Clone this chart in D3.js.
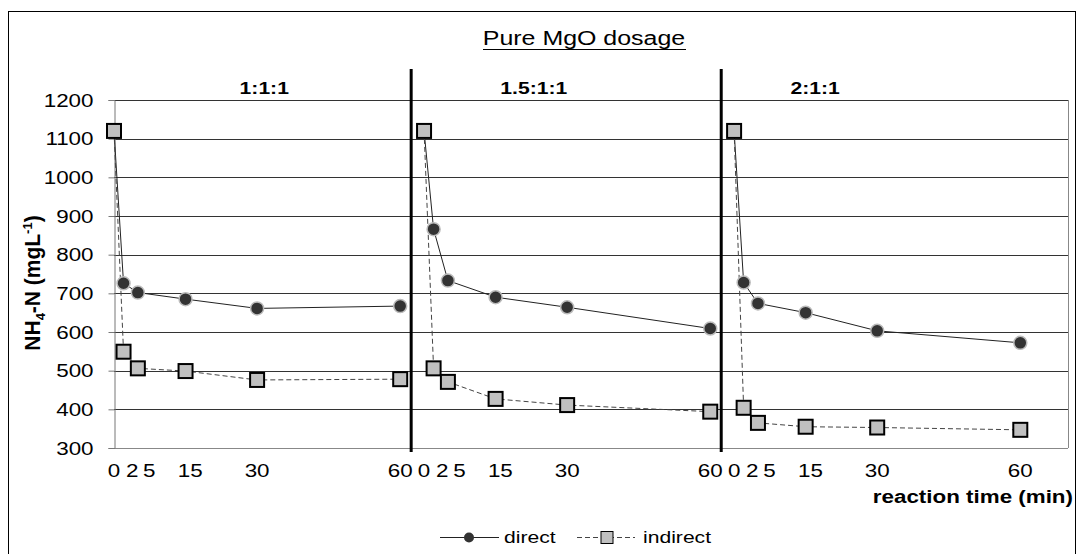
<!DOCTYPE html>
<html>
<head>
<meta charset="utf-8">
<script src="https://cdn.jsdelivr.net/npm/d3@7"></script>
<style>
body { margin: 0; background: #fff; }
text { font-family: Arial, "Liberation Sans", sans-serif; fill: #000; }
</style>
</head>
<body>
<svg id="chart" width="1084" height="554"></svg>
<script>
// data
var times = [0, 2, 5, 15, 30, 60];
var ratios = ["1:1:1", "1.5:1:1", "2:1:1"];
var direct1 = [1120, 726, 702, 685, 661, 667];
var direct2 = [1120, 866, 733, 690, 664, 609];
var direct3 = [1120, 728, 674, 650, 603, 572];
var indirect1 = [1120, 549, 506, 499, 476, 478];
var indirect2 = [1120, 506, 471, 427, 411, 394];
var indirect3 = [1120, 404, 365, 355, 353, 347];
var yTicks = [300, 400, 500, 600, 700, 800, 900, 1000, 1100, 1200];
var tickLabels = ["0", "2", "5", "15", "30", "60"];

var direct = [direct1, direct2, direct3];
var indirect = [indirect1, indirect2, indirect3];

var svg = d3.select("#chart");
var sx = 1.28; // the original is stretched sideways

// each panel is 60 min wide, panels shifted along one axis
var panelShift = 65;
var x = d3.scaleLinear().domain([0, 200]).range([114, 1068]);
var y = d3.scaleLinear().domain([300, 1200]).range([448, 100]);

// tick label positions (spread out near 0 like in the original)
var labelAt = [0, 3.8, 7.4, 16, 30, 60];
var ratioAt = [31.5, 23, 17];

function stext(g, tx, ty, str, anchor) {
    return g.append("text")
        .attr("transform", "translate(" + tx + "," + ty + ") scale(" + sx + ",1)")
        .attr("text-anchor", anchor || "middle")
        .text(str);
}

// outer frame
svg.append("rect")
    .attr("x", 8.5).attr("y", 11.5)
    .attr("width", 1067).attr("height", 560)
    .attr("fill", "none")
    .attr("stroke", "#000")
    .attr("stroke-width", 1);

// gridlines
svg.append("g").selectAll("line")
    .data(yTicks)
    .join("line")
    .attr("x1", x(0)).attr("x2", x(200))
    .attr("y1", d => Math.round(y(d)) + 0.5)
    .attr("y2", d => Math.round(y(d)) + 0.5)
    .attr("stroke", d => d == 300 ? "#888" : "#333")
    .attr("stroke-width", 1);

// right border of plot area
svg.append("line")
    .attr("x1", x(200) + 0.5).attr("x2", x(200) + 0.5)
    .attr("y1", y(1200)).attr("y2", y(300))
    .attr("stroke", "#888");

// y axis
var yAxis = svg.append("g")
    .attr("transform", "translate(" + (x(0) + 0.5) + ",0)")
    .call(d3.axisLeft(y).tickValues(yTicks).tickSize(6).tickPadding(15).tickFormat(d3.format("d")));
yAxis.select(".domain").attr("stroke", "#777");
yAxis.selectAll(".tick line").attr("stroke", "#777");
yAxis.selectAll(".tick text")
    .attr("font-size", 17.5)
    .attr("font-family", "Arial, 'Liberation Sans', sans-serif")
    .attr("fill", "#000")
    .attr("transform", "scale(" + sx + ",1)")
    .attr("x", -21 / sx)
    .attr("dy", "0.36em");

// y axis title
var yt = svg.append("text")
    .attr("transform", "translate(40,283) scale(1.05,1) rotate(-90)")
    .attr("text-anchor", "middle")
    .attr("font-size", 21)
    .attr("font-weight", "bold");
yt.append("tspan").text("NH");
yt.append("tspan").attr("font-size", 13).attr("dy", 5).text("4");
yt.append("tspan").attr("dy", -5).text("-N (mgL");
yt.append("tspan").attr("font-size", 13).attr("dy", -8).text("-1");
yt.append("tspan").attr("dy", 8).text(")");

// title
stext(svg, 584, 45, "Pure MgO dosage").attr("font-size", 19.5);
svg.append("line")
    .attr("x1", 483).attr("x2", 686)
    .attr("y1", 49.5).attr("y2", 49.5)
    .attr("stroke", "#000").attr("stroke-width", 1);

// panel separators
[62.3, 127.3].forEach(v => {
    svg.append("line")
        .attr("x1", x(v)).attr("x2", x(v))
        .attr("y1", 69).attr("y2", 452)
        .attr("stroke", "#000").attr("stroke-width", 3);
});

var lineGen = d3.line()
    .x(d => x(d[0]))
    .y(d => y(d[1]));

ratios.forEach((r, p) => {
    var off = p * panelShift;

    // panel label
    stext(svg, x(off + ratioAt[p]), 94, r)
        .attr("font-size", 16.5)
        .attr("font-weight", "bold");

    // x tick labels
    tickLabels.forEach((t, i) => {
        stext(svg, x(off + labelAt[i]), 477, t).attr("font-size", 17.5);
    });

    var dPts = times.map((t, i) => [off + t, direct[p][i]]);
    var iPts = times.map((t, i) => [off + t, indirect[p][i]]);

    svg.append("path")
        .attr("d", lineGen(dPts))
        .attr("fill", "none")
        .attr("stroke", "#222")
        .attr("stroke-width", 1);

    svg.append("path")
        .attr("d", lineGen(iPts))
        .attr("fill", "none")
        .attr("stroke", "#444")
        .attr("stroke-width", 1)
        .attr("stroke-dasharray", "5,3");

    svg.append("g").selectAll("circle")
        .data(dPts)
        .join("circle")
        .attr("cx", d => x(d[0]))
        .attr("cy", d => y(d[1]))
        .attr("r", 6.5)
        .attr("fill", "#333")
        .attr("stroke", "#bbb")
        .attr("stroke-width", 1.5);

    svg.append("g").selectAll("rect")
        .data(iPts)
        .join("rect")
        .attr("x", d => x(d[0]) - 7)
        .attr("y", d => y(d[1]) - 7)
        .attr("width", 14)
        .attr("height", 14)
        .attr("fill", "#c0c0c0")
        .attr("stroke", "#000")
        .attr("stroke-width", 2);
});

// x axis title
stext(svg, 1073, 503, "reaction time (min)", "end")
    .attr("font-size", 17.5)
    .attr("font-weight", "bold");

// legend
var lg = svg.append("g");
lg.append("line").attr("x1", 440).attr("x2", 499).attr("y1", 537.5).attr("y2", 537.5)
    .attr("stroke", "#222");
lg.append("circle").attr("cx", 469).attr("cy", 537.5).attr("r", 5).attr("fill", "#333");
stext(lg, 504, 543, "direct", "start").attr("font-size", 16.5);
lg.append("line").attr("x1", 577).attr("x2", 635).attr("y1", 537.5).attr("y2", 537.5)
    .attr("stroke", "#444").attr("stroke-dasharray", "5,3");
lg.append("rect").attr("x", 601).attr("y", 531.5).attr("width", 12).attr("height", 12)
    .attr("fill", "#c0c0c0").attr("stroke", "#000").attr("stroke-width", 1);
stext(lg, 643, 543, "indirect", "start").attr("font-size", 16.5);
</script>
</body>
</html>
